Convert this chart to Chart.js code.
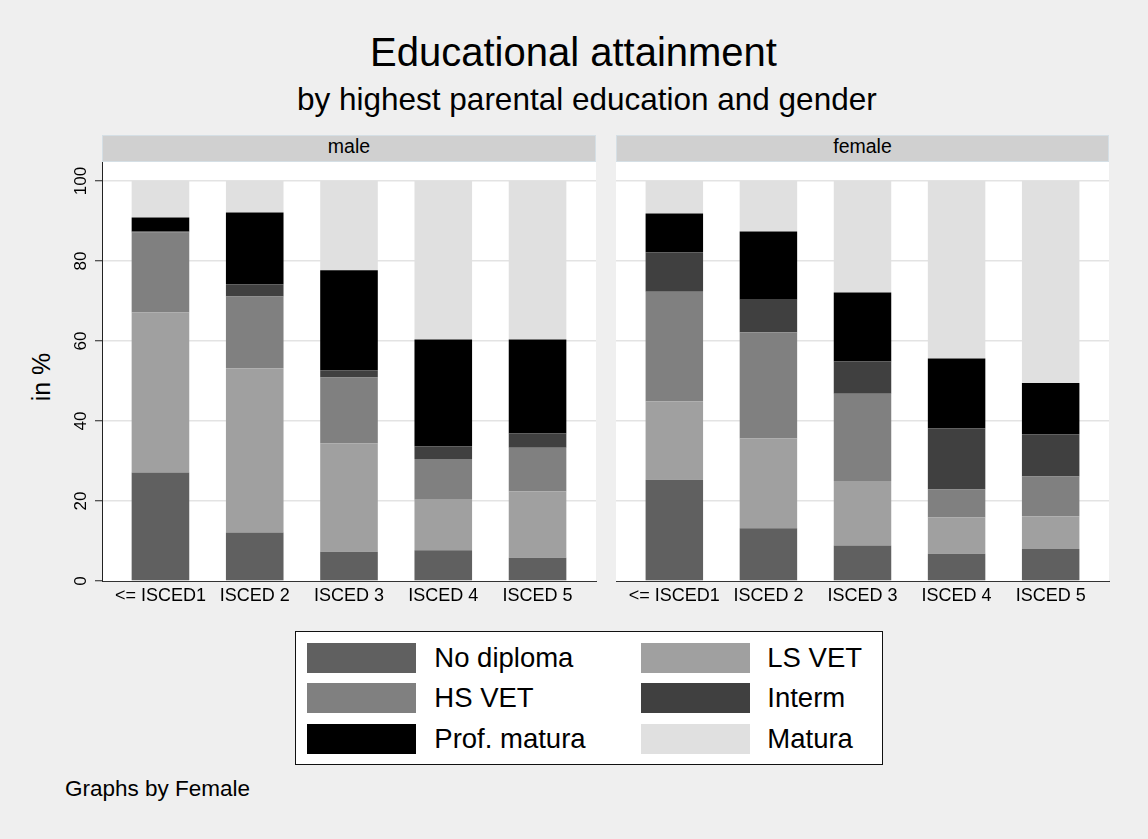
<!DOCTYPE html>
<html>
<head>
<meta charset="utf-8">
<title>Educational attainment</title>
<script src="https://cdn.jsdelivr.net/npm/chart.js@4.4.1/dist/chart.umd.min.js"></script>
<style>
    body { margin: 0; background: #efefef; font-family: 'Liberation Sans', Arial, sans-serif; color: #000; }
    #page { position: relative; width: 1148px; height: 839px; overflow: hidden; }
    .abs { position: absolute; white-space: nowrap; line-height: 1; }
    .strip { position: absolute; box-sizing: border-box; background: #d0d0d0; border: 1px solid #d5dfe5;
             text-align: center; font-size: 19.5px; line-height: 21px; }
    canvas { position: absolute; }
    #legend { position: absolute; left: 295px; top: 631px; width: 588px; height: 134px; box-sizing: border-box;
              background: #fff; border: 1px solid #111; }
    .sw { position: absolute; width: 109px; height: 30px; }
    .lab { position: absolute; font-size: 27.5px; line-height: 30px; white-space: nowrap; }
</style>
</head>
<body>
<div id="page">
    <div class="abs" style="left:370px; top:32px; font-size:40px;">Educational attainment</div>
    <div class="abs" style="left:297px; top:84px; font-size:31.5px;">by highest parental education and gender</div>
    <div class="strip" style="left:102px; top:135px; width:494px; height:27px;">male</div>
    <div class="strip" style="left:616px; top:135px; width:493px; height:27px;">female</div>
    <div class="abs" style="left:41px; top:377px; font-size:25px; transform:translate(-50%,-50%) rotate(-90deg);">in %</div>
    <canvas id="maleChart" width="600" height="470" style="left:0; top:150px;"></canvas>
    <canvas id="femaleChart" width="500" height="470" style="left:616px; top:150px;"></canvas>
    <div id="legend"></div>
    <div class="abs" style="left:65px; top:778px; font-size:22.5px;">Graphs by Female</div>
</div>
<script>
// Categories (highest parental education) and series names
const categories = ['<= ISCED1', 'ISCED 2', 'ISCED 3', 'ISCED 4', 'ISCED 5'];
const seriesNames = ['No diploma', 'LS VET', 'HS VET', 'Interm', 'Prof. matura', 'Matura'];
const yTickValues = [0, 20, 40, 60, 80, 100];

// Male shares in %
const noDiplomaMale   = [27.1, 12.1,  7.3,  7.7,  5.8];
const lsVetMale       = [40.0, 41.1, 27.1, 12.6, 16.6];
const hsVetMale       = [20.0, 17.9, 16.5, 10.2, 10.9];
const intermMale      = [ 0.3,  3.1,  1.8,  3.2,  3.6];
const profMaturaMale  = [ 3.5, 17.9, 25.0, 26.7, 23.5];
const maturaMale      = [ 9.1,  7.9, 22.3, 39.6, 39.6];

// Female shares in %
const noDiplomaFemale  = [25.3, 13.2,  8.9,  6.8,  8.0];
const lsVetFemale      = [19.6, 22.4, 16.1,  9.1,  8.2];
const hsVetFemale      = [27.4, 26.6, 21.8,  7.0,  9.9];
const intermFemale     = [ 9.9,  8.1,  8.1, 15.3, 10.6];
const profMaturaFemale = [ 9.7, 17.1, 17.2, 17.4, 12.8];
const maturaFemale     = [ 8.1, 12.6, 27.9, 44.4, 50.5];

const maleSeries = [noDiplomaMale, lsVetMale, hsVetMale, intermMale, profMaturaMale, maturaMale];
const femaleSeries = [noDiplomaFemale, lsVetFemale, hsVetFemale, intermFemale, profMaturaFemale, maturaFemale];

const seriesColors = ['#606060', '#a0a0a0', '#808080', '#404040', '#000000', '#e0e0e0'];

Chart.defaults.font.family = "'Liberation Sans', Arial, sans-serif";
Chart.defaults.color = '#000';

// white plot region behind the gridlines
const plotBackground = {
    id: 'plotBackground',
    beforeDraw: function(chart) {
        const a = chart.chartArea;
        chart.ctx.save();
        chart.ctx.fillStyle = '#ffffff';
        chart.ctx.fillRect(a.left, a.top, a.right - a.left, a.bottom - a.top);
        chart.ctx.restore();
    }
};

function makePanel(canvasId, series, withAxis, rightPad) {
    const ctx = document.getElementById(canvasId).getContext('2d');
    const datasets = series.map(function(values, s) {
        return {
            label: seriesNames[s],
            data: values.map((v, i) => ({ x: i + 1, y: v })),
            backgroundColor: seriesColors[s],
            borderWidth: 0,
            categoryPercentage: 1,
            barPercentage: 0.611
        };
    });

    return new Chart(ctx, {
        type: 'bar',
        data: { datasets: datasets },
        plugins: [plotBackground],
        options: {
            responsive: false,
            animation: false,
            devicePixelRatio: 1,
            layout: { padding: { left: 0, top: 12, right: rightPad, bottom: 0 } },
            plugins: {
                legend: { display: false },
                tooltip: { enabled: false }
            },
            scales: {
                x: {
                    type: 'linear',
                    stacked: true,
                    offset: false,
                    min: 0.38,
                    max: 5.62,
                    z: 1,
                    afterBuildTicks: function(scale) {
                        scale.ticks = categories.map((c, i) => ({ value: i + 1 }));
                    },
                    afterFit: function(scale) { scale.height = 39; },
                    grid: { display: false, drawTicks: false },
                    border: { display: true, color: '#333', width: 1 },
                    ticks: {
                        autoSkip: false,
                        maxRotation: 0,
                        padding: 4,
                        font: { size: 18 },
                        callback: function(value) { return categories[value - 1]; }
                    }
                },
                y: {
                    stacked: true,
                    min: 0,
                    max: 104.75,
                    afterBuildTicks: function(scale) {
                        scale.ticks = yTickValues.map(v => ({ value: v }));
                    },
                    afterFit: function(scale) { scale.width = withAxis ? 102 : 0; },
                    grid: {
                        color: c => (c.tick && c.tick.value === 0) ? 'rgba(0,0,0,0)' : '#e3e3e3',
                        lineWidth: 1.5,
                        drawTicks: withAxis,
                        tickLength: 7,
                        tickColor: '#222',
                        tickWidth: 1
                    },
                    border: { display: withAxis, color: '#222', width: 1 },
                    ticks: {
                        display: withAxis,
                        minRotation: 90,
                        maxRotation: 90,
                        crossAlign: 'center',
                        padding: 0,
                        font: { size: 17 }
                    }
                }
            }
        }
    });
}

const maleChart = makePanel('maleChart', maleSeries, true, 4);
const femaleChart = makePanel('femaleChart', femaleSeries, false, 7);

// Legend in two columns, same order as the series
const legendBox = document.getElementById('legend');
seriesNames.forEach(function(name, i) {
    const col = i % 2;
    const row = Math.floor(i / 2);
    const sw = document.createElement('div');
    sw.className = 'sw';
    sw.style.left = (11.3 + col * 333.7) + 'px';
    sw.style.top = (10.7 + row * 40.5) + 'px';
    sw.style.background = seriesColors[i];
    legendBox.appendChild(sw);

    const lab = document.createElement('div');
    lab.className = 'lab';
    lab.style.left = (138.3 + col * 333) + 'px';
    lab.style.top = (10.7 + row * 40.5) + 'px';
    lab.textContent = name;
    legendBox.appendChild(lab);
});
</script>
</body>
</html>
